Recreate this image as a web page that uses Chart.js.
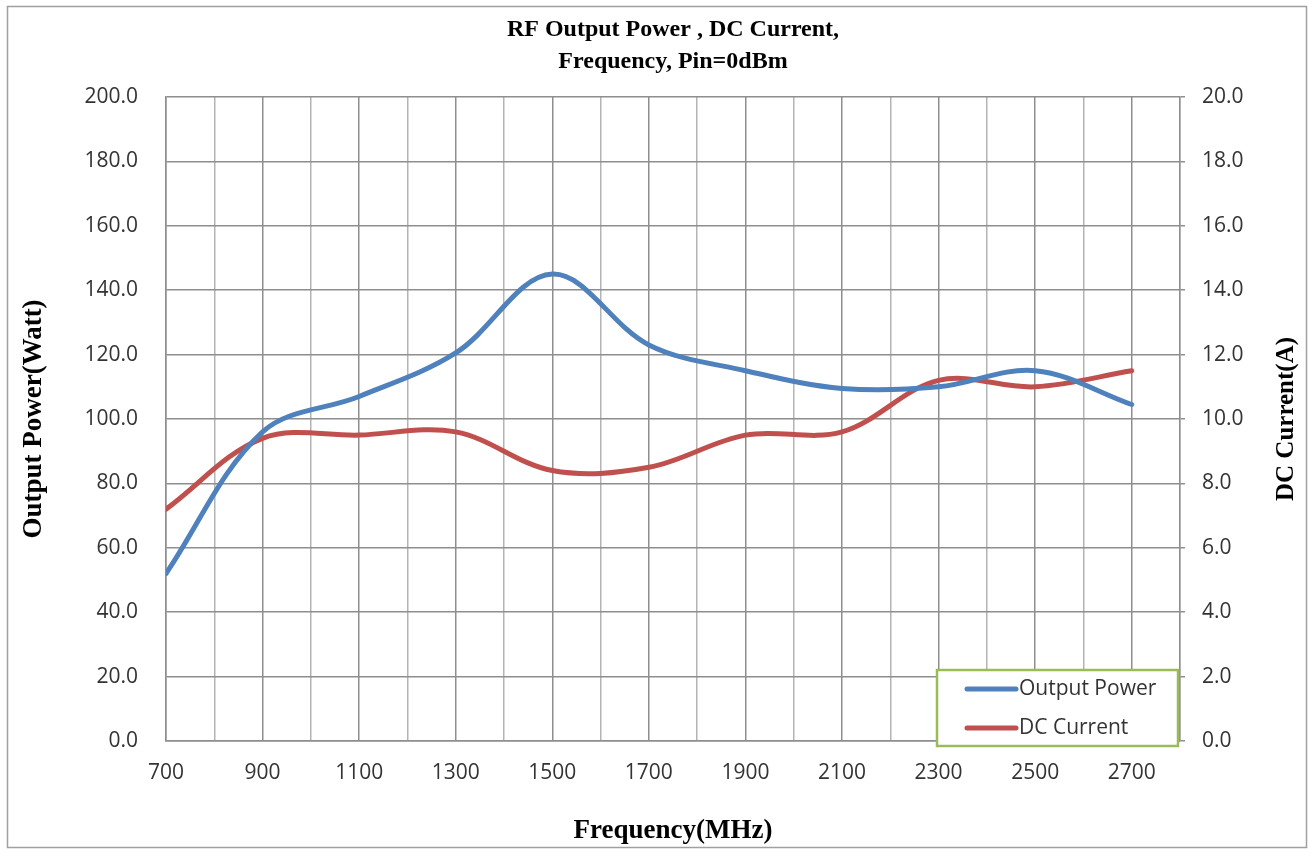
<!DOCTYPE html>
<html>
<head>
<meta charset="utf-8">
<script src="https://cdn.jsdelivr.net/npm/chart.js@4.4.1/dist/chart.umd.min.js"></script>
<style>
  html, body { margin: 0; padding: 0; background: #ffffff; }
  #c { display: block; }
</style>
</head>
<body>
<canvas id="c" width="1309" height="849"></canvas>
<script>
// ---- data ----
const frequencyMHz = [700, 900, 1100, 1300, 1500, 1700, 1900, 2100, 2300, 2500, 2700];
const outputPowerW = [52, 96, 107, 120.5, 145, 123, 115, 109.5, 110, 115, 104.5];
const dcCurrentA   = [7.2, 9.4, 9.5, 9.6, 8.4, 8.5, 9.5, 9.6, 11.2, 11.0, 11.5];
const seriesNames  = ['Output Power', 'DC Current'];
const titleLines   = ['RF Output Power , DC Current,', 'Frequency, Pin=0dBm'];
const xAxisTitle   = 'Frequency(MHz)';
const yLeftTitle   = 'Output Power(Watt)';
const yRightTitle  = 'DC Current(A)';

const BLUE = '#4f81bd';
const RED  = '#c0504d';
const GRID = '#8e8e8e';
const GRID_LIGHT = '#b4b4b4';
const TICK_FONT = { family: '"Open Sans", "DejaVu Sans", sans-serif', size: 21 };
const SERIF = '"Liberation Serif", "Times New Roman", serif';

const toPoints = (xs, ys) => xs.map((x, i) => ({ x: x, y: ys[i] }));

const framePlugin = {
  id: 'frame',
  beforeDraw(chart) {
    const ctx = chart.ctx;
    ctx.save();
    ctx.fillStyle = '#ffffff';
    ctx.fillRect(0, 0, chart.width, chart.height);
    ctx.strokeStyle = '#a0a0a0';
    ctx.lineWidth = 1.5;
    ctx.strokeRect(7.5, 6.5, chart.width - 10, chart.height - 8);
    ctx.restore();
  }
};

const rightTitlePlugin = {
  id: 'rightTitle',
  afterDraw(chart) {
    const s = chart.scales.y1;
    const t = s.options.title;
    const ctx = chart.ctx;
    ctx.save();
    ctx.font = 'bold 25px ' + SERIF;
    ctx.fillStyle = '#000000';
    ctx.textAlign = 'center';
    ctx.textBaseline = 'middle';
    const cx = s.right - 19;
    const cy = (chart.chartArea.top + chart.chartArea.bottom) / 2;
    ctx.translate(cx, cy);
    ctx.rotate(-Math.PI / 2);
    ctx.fillText(t.text, 0, 0);
    ctx.restore();
  }
};

const boxLegendPlugin = {
  id: 'boxLegend',
  afterDatasetsDraw(chart) {
    const ctx = chart.ctx;
    const a = chart.chartArea;
    const right = a.right - 2, bottom = a.bottom + 5;
    const w = 241, h = 76;
    const left = right - w, top = bottom - h;
    ctx.save();
    ctx.fillStyle = '#ffffff';
    ctx.fillRect(left, top, w, h);
    ctx.strokeStyle = '#9bbb59';
    ctx.lineWidth = 2.5;
    ctx.strokeRect(left, top, w, h);
    ctx.font = TICK_FONT.size + 'px ' + TICK_FONT.family;
    ctx.textBaseline = 'middle';
    ctx.textAlign = 'left';
    chart.data.datasets.forEach((ds, i) => {
      const y = top + 19 + i * 39;
      ctx.strokeStyle = ds.borderColor;
      ctx.lineWidth = 5;
      ctx.lineCap = 'round';
      ctx.beginPath();
      ctx.moveTo(left + 30, y);
      ctx.lineTo(left + 79, y);
      ctx.stroke();
      ctx.fillStyle = '#333333';
      ctx.fillText(ds.label, left + 82, y);
    });
    ctx.restore();
  }
};

new Chart(document.getElementById('c'), {
  type: 'line',
  data: {
    datasets: [
      {
        label: seriesNames[0],
        data: toPoints(frequencyMHz, outputPowerW),
        yAxisID: 'y',
        borderColor: BLUE,
        backgroundColor: BLUE,
        borderWidth: 5,
        borderCapStyle: 'round',
        pointRadius: 0,
        tension: 0.35,
        fill: false
      },
      {
        label: seriesNames[1],
        data: toPoints(frequencyMHz, dcCurrentA),
        yAxisID: 'y1',
        borderColor: RED,
        backgroundColor: RED,
        borderWidth: 5,
        borderCapStyle: 'round',
        pointRadius: 0,
        tension: 0.35,
        fill: false
      }
    ]
  },
  options: {
    responsive: false,
    animation: false,
    devicePixelRatio: 1,
    layout: { padding: { left: 8, right: 3, top: 0, bottom: 0 } },
    plugins: {
      legend: { display: false },
      tooltip: { enabled: false },
      title: {
        display: true,
        text: titleLines,
        fullSize: false,
        color: '#000000',
        font: { family: SERIF, size: 24, weight: 'bold', lineHeight: 1.333 },
        padding: { top: 14, bottom: 19 }
      }
    },
    scales: {
      x: {
        type: 'linear',
        min: 700,
        max: 2800,
        afterFit(s) { s.height = 108; },
        afterBuildTicks(s) {
          const t = [];
          for (let v = 700; v <= 2800; v += 100) t.push({ value: v });
          s.ticks = t;
        },
        ticks: {
          autoSkip: false,
          maxRotation: 0,
          padding: 19,
          color: '#333333',
          font: TICK_FONT,
          callback: (v) => ((v - 700) % 200 === 0 && v < 2800) ? String(v) : ''
        },
        grid: {
          drawTicks: false,
          lineWidth: 1.5,
          color: (c) => (c.tick && (c.tick.value - 700) % 200 === 0) ? GRID : GRID_LIGHT
        },
        border: { display: true, color: GRID, width: 1.5 },
        title: {
          display: true,
          text: xAxisTitle,
          color: '#000000',
          font: { family: SERIF, size: 27, weight: 'bold', lineHeight: 1.2 },
          padding: { top: 0, bottom: 2 }
        }
      },
      y: {
        type: 'linear',
        position: 'left',
        min: 0,
        max: 200,
        afterFit(s) { s.width = 158; },
        ticks: {
          stepSize: 20,
          padding: 28,
          color: '#333333',
          font: TICK_FONT,
          callback: (v) => Number(v).toFixed(1)
        },
        grid: { drawTicks: false, color: GRID, lineWidth: 1.5 },
        border: { display: true, color: GRID, width: 1.5 },
        title: {
          display: true,
          text: yLeftTitle,
          color: '#000000',
          font: { family: SERIF, size: 27, weight: 'bold', lineHeight: 1.2 },
          padding: { top: 10, bottom: 0 }
        }
      },
      y1: {
        type: 'linear',
        position: 'right',
        min: 0,
        max: 20,
        afterFit(s) { s.width = 126; },
        ticks: {
          stepSize: 2,
          padding: 17,
          color: '#333333',
          font: TICK_FONT,
          callback: (v) => Number(v).toFixed(1)
        },
        grid: { drawOnChartArea: false, drawTicks: true, tickLength: 5, color: GRID, lineWidth: 1.5 },
        border: { display: true, color: GRID, width: 1.5 },
        title: { display: false, text: yRightTitle }
      }
    }
  },
  plugins: [framePlugin, rightTitlePlugin, boxLegendPlugin]
});
</script>
</body>
</html>
